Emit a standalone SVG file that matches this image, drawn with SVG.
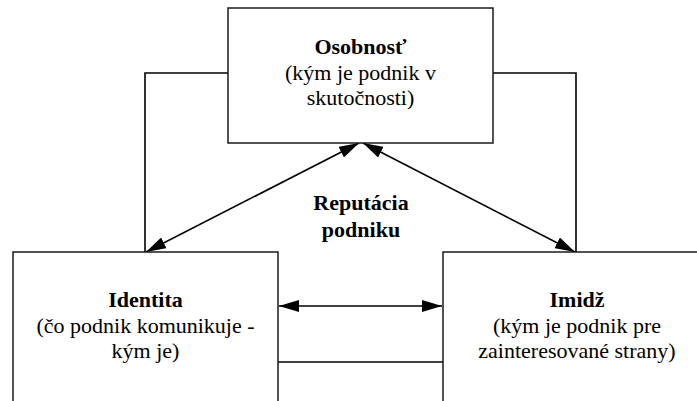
<svg xmlns="http://www.w3.org/2000/svg" width="697" height="401" viewBox="0 0 697 401">
  <defs>
    <marker id="ah" viewBox="0 0 20 12" refX="20" refY="6" markerWidth="20" markerHeight="12" markerUnits="userSpaceOnUse" orient="auto-start-reverse">
      <path d="M0,0 L20,6 L0,12 Z" fill="#000"/>
    </marker>
  </defs>
  <rect width="697" height="401" fill="#fff"/>

  <!-- connectors: side brackets, double arrows and the lower link -->
  <g id="connectors" fill="none" stroke="#000" stroke-width="1.6">
    <polyline points="228,73 145,73 145,252"/>
    <polyline points="493,73 576,73 576,252"/>
    <line x1="359" y1="143" x2="146" y2="252" marker-start="url(#ah)" marker-end="url(#ah)"/>
    <line x1="363" y1="143" x2="575" y2="252" marker-start="url(#ah)" marker-end="url(#ah)"/>
    <line x1="279" y1="306" x2="442" y2="306" marker-start="url(#ah)" marker-end="url(#ah)"/>
    <line x1="278" y1="362" x2="443" y2="362"/>
  </g>

  <g id="osobnost">
    <rect x="228" y="8" width="265" height="135" fill="#fff" stroke="#1a1a1a" stroke-width="1.5"/>
    <text x="360.5" y="54" font-family="Times New Roman" font-size="22" font-weight="bold" text-anchor="middle">Osobnosť</text>
    <text x="360.5" y="80" font-family="Times New Roman" font-size="22" text-anchor="middle">(kým je podnik v</text>
    <text x="360.5" y="105" font-family="Times New Roman" font-size="22" text-anchor="middle">skutočnosti)</text>
  </g>

  <g id="reputacia">
    <text x="361" y="210" font-family="Times New Roman" font-size="22" font-weight="bold" text-anchor="middle">Reputácia</text>
    <text x="361" y="237" font-family="Times New Roman" font-size="22" font-weight="bold" text-anchor="middle">podniku</text>
  </g>

  <g id="identita">
    <rect x="13" y="252" width="265" height="170" fill="#fff" stroke="#1a1a1a" stroke-width="1.5"/>
    <text x="145.5" y="307" font-family="Times New Roman" font-size="22" font-weight="bold" text-anchor="middle">Identita</text>
    <text x="145.5" y="333" font-family="Times New Roman" font-size="22" text-anchor="middle">(čo podnik komunikuje -</text>
    <text x="145.5" y="358" font-family="Times New Roman" font-size="22" text-anchor="middle">kým je)</text>
  </g>

  <g id="imidz">
    <rect x="443" y="252" width="265" height="170" fill="#fff" stroke="#1a1a1a" stroke-width="1.5"/>
    <text x="577" y="307" font-family="Times New Roman" font-size="22" font-weight="bold" text-anchor="middle">Imidž</text>
    <text x="577" y="333" font-family="Times New Roman" font-size="22" text-anchor="middle">(kým je podnik pre</text>
    <text x="577" y="358" font-family="Times New Roman" font-size="22" text-anchor="middle">zainteresované strany)</text>
  </g>
</svg>
